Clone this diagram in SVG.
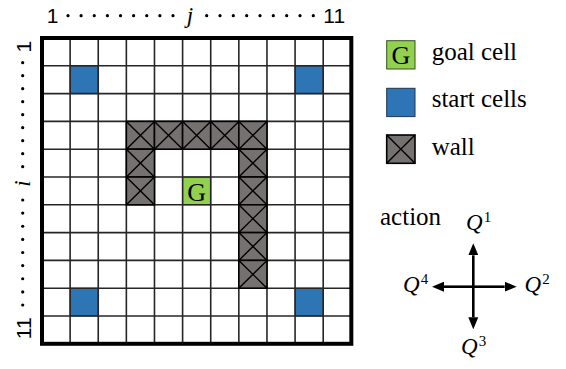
<svg xmlns="http://www.w3.org/2000/svg" width="566" height="369" viewBox="0 0 566 369">
<style>
.grid line{stroke:#262626;stroke-width:1.6}
.start{fill:#2E75B6;stroke:#1f3550;stroke-width:1}
.goal{fill:#92D050;stroke:#3a5020;stroke-width:1}
.wallbox{fill:#767171;stroke:#000;stroke-width:1.6}
.wallx{stroke:#000;stroke-width:1.4}
.serif{font-family:"Liberation Serif","Times New Roman",serif;fill:#000}
.sans{font-family:"Liberation Sans",Arial,sans-serif;fill:#000}
.it{font-style:italic}
.dot{fill:#000}
.arrow{stroke:#000;stroke-width:2.6;fill:none}
</style>
<defs>
<g id="wallcell">
<rect class="wallbox" x="0" y="0" width="28.12" height="27.8"/>
<line class="wallx" x1="0" y1="0" x2="28.12" y2="27.8"/>
<line class="wallx" x1="28.12" y1="0" x2="0" y2="27.8"/>
</g>
<marker id="ah" viewBox="0 0 12 10" refX="0" refY="5" markerWidth="12" markerHeight="10" markerUnits="userSpaceOnUse" orient="auto">
<path d="M0,0 L12,5 L0,10 Z" fill="#000"/>
</marker>
</defs>
<rect width="566" height="369" fill="#fff"/>

<g id="start-cells">
<rect class="start" x="70.12" y="65.8" width="28.12" height="27.8"/>
<rect class="start" x="295.08" y="65.8" width="28.12" height="27.8"/>
<rect class="start" x="70.12" y="288.2" width="28.12" height="27.8"/>
<rect class="start" x="295.08" y="288.2" width="28.12" height="27.8"/>
</g>

<g id="goal-cell">
<rect class="goal" x="182.6" y="177" width="28.12" height="27.8"/>
<text class="serif" x="196.66" y="200.5" font-size="26" text-anchor="middle">G</text>
</g>

<g id="grid" class="grid">
<line x1="70.12" y1="38" x2="70.12" y2="343.8"/>
<line x1="98.24" y1="38" x2="98.24" y2="343.8"/>
<line x1="126.36" y1="38" x2="126.36" y2="343.8"/>
<line x1="154.48" y1="38" x2="154.48" y2="343.8"/>
<line x1="182.6" y1="38" x2="182.6" y2="343.8"/>
<line x1="210.72" y1="38" x2="210.72" y2="343.8"/>
<line x1="238.84" y1="38" x2="238.84" y2="343.8"/>
<line x1="266.96" y1="38" x2="266.96" y2="343.8"/>
<line x1="295.08" y1="38" x2="295.08" y2="343.8"/>
<line x1="323.2" y1="38" x2="323.2" y2="343.8"/>
<line x1="42" y1="65.8" x2="351.32" y2="65.8"/>
<line x1="42" y1="93.6" x2="351.32" y2="93.6"/>
<line x1="42" y1="121.4" x2="351.32" y2="121.4"/>
<line x1="42" y1="149.2" x2="351.32" y2="149.2"/>
<line x1="42" y1="177" x2="351.32" y2="177"/>
<line x1="42" y1="204.8" x2="351.32" y2="204.8"/>
<line x1="42" y1="232.6" x2="351.32" y2="232.6"/>
<line x1="42" y1="260.4" x2="351.32" y2="260.4"/>
<line x1="42" y1="288.2" x2="351.32" y2="288.2"/>
<line x1="42" y1="316" x2="351.32" y2="316"/>
</g>

<g id="walls">
<use href="#wallcell" x="126.36" y="121.4"/>
<use href="#wallcell" x="154.48" y="121.4"/>
<use href="#wallcell" x="182.6" y="121.4"/>
<use href="#wallcell" x="210.72" y="121.4"/>
<use href="#wallcell" x="238.84" y="121.4"/>
<use href="#wallcell" x="126.36" y="149.2"/>
<use href="#wallcell" x="126.36" y="177"/>
<use href="#wallcell" x="238.84" y="149.2"/>
<use href="#wallcell" x="238.84" y="177"/>
<use href="#wallcell" x="238.84" y="204.8"/>
<use href="#wallcell" x="238.84" y="232.6"/>
<use href="#wallcell" x="238.84" y="260.4"/>
</g>

<rect id="border" x="42" y="38" width="309.32" height="305.8" fill="none" stroke="#000" stroke-width="4"/>

<g id="axis-j">
<text class="sans" x="52.5" y="23.3" font-size="21" text-anchor="middle">1</text>
<g class="dot">
<circle cx="68" cy="15.7" r="1.6"/><circle cx="81.1" cy="15.7" r="1.6"/><circle cx="94.25" cy="15.7" r="1.6"/>
<circle cx="107.4" cy="15.7" r="1.6"/><circle cx="120.5" cy="15.7" r="1.6"/><circle cx="133.6" cy="15.7" r="1.6"/>
<circle cx="146.75" cy="15.7" r="1.6"/><circle cx="159.9" cy="15.7" r="1.6"/><circle cx="173" cy="15.7" r="1.6"/>
<circle cx="206.7" cy="15.7" r="1.6"/><circle cx="220" cy="15.7" r="1.6"/><circle cx="233.3" cy="15.7" r="1.6"/>
<circle cx="246.7" cy="15.7" r="1.6"/><circle cx="260" cy="15.7" r="1.6"/><circle cx="273.3" cy="15.7" r="1.6"/>
<circle cx="286.7" cy="15.7" r="1.6"/><circle cx="300" cy="15.7" r="1.6"/><circle cx="313.3" cy="15.7" r="1.6"/>
</g>
<text class="serif it" x="190" y="23.3" font-size="23" text-anchor="middle">j</text>
<text class="sans" x="334.2" y="23.3" font-size="21" text-anchor="middle">11</text>
</g>

<g id="axis-i">
<text class="sans" transform="translate(31,46.7) rotate(-90)" font-size="21" text-anchor="middle">1</text>
<g class="dot">
<circle cx="22.7" cy="62.7" r="1.6"/><circle cx="22.7" cy="75.7" r="1.6"/><circle cx="22.7" cy="88.7" r="1.6"/>
<circle cx="22.7" cy="101.7" r="1.6"/><circle cx="22.7" cy="114.7" r="1.6"/><circle cx="22.7" cy="127.7" r="1.6"/>
<circle cx="22.7" cy="140.7" r="1.6"/><circle cx="22.7" cy="153.7" r="1.6"/><circle cx="22.7" cy="166.7" r="1.6"/>
<circle cx="22.7" cy="200" r="1.6"/><circle cx="22.7" cy="213.1" r="1.6"/><circle cx="22.7" cy="226.25" r="1.6"/>
<circle cx="22.7" cy="239.4" r="1.6"/><circle cx="22.7" cy="252.5" r="1.6"/><circle cx="22.7" cy="265.6" r="1.6"/>
<circle cx="22.7" cy="278.75" r="1.6"/><circle cx="22.7" cy="291.9" r="1.6"/><circle cx="22.7" cy="305" r="1.6"/>
</g>
<text class="serif it" transform="translate(30,183.5) rotate(-90)" font-size="23" text-anchor="middle">i</text>
<text class="sans" transform="translate(31,328.3) rotate(-90)" font-size="21" text-anchor="middle">11</text>
</g>

<g id="legend">
<g id="legend-goal">
<rect class="goal" x="386.7" y="40.7" width="28.3" height="28.3"/>
<text class="serif" x="400.85" y="63.5" font-size="26" text-anchor="middle">G</text>
<text class="serif" x="431.7" y="60" font-size="25">goal cell</text>
</g>
<g id="legend-start">
<rect class="start" x="386.7" y="88.3" width="28.3" height="28.3"/>
<text class="serif" x="431.7" y="107.3" font-size="25">start cells</text>
</g>
<g id="legend-wall">
<rect class="wallbox" x="386.7" y="135" width="28.3" height="28.3" stroke-width="1.2"/>
<line class="wallx" x1="386.7" y1="135" x2="415" y2="163.3"/>
<line class="wallx" x1="415" y1="135" x2="386.7" y2="163.3"/>
<text class="serif" x="431.7" y="155" font-size="25">wall</text>
</g>
</g>

<g id="action">
<text class="serif" x="380" y="225" font-size="25">action</text>
<text class="serif it" x="466" y="230" font-size="23">Q<tspan font-style="normal" font-size="15" dx="1" dy="-8">1</tspan></text>
<text class="serif it" x="524.5" y="292" font-size="23">Q<tspan font-style="normal" font-size="15" dx="1" dy="-8">2</tspan></text>
<text class="serif it" x="461" y="353.5" font-size="23">Q<tspan font-style="normal" font-size="15" dx="1" dy="-8">3</tspan></text>
<text class="serif it" x="403" y="292" font-size="23">Q<tspan font-style="normal" font-size="15" dx="1" dy="-8">4</tspan></text>
</g>

<g id="connectors">
<line class="arrow" x1="473.3" y1="286.7" x2="473.3" y2="255.3" marker-end="url(#ah)"/>
<line class="arrow" x1="473.3" y1="286.7" x2="473.3" y2="317.3" marker-end="url(#ah)"/>
<line class="arrow" x1="473.3" y1="286.7" x2="444" y2="286.7" marker-end="url(#ah)"/>
<line class="arrow" x1="473.3" y1="286.7" x2="504.7" y2="286.7" marker-end="url(#ah)"/>
</g>
</svg>
